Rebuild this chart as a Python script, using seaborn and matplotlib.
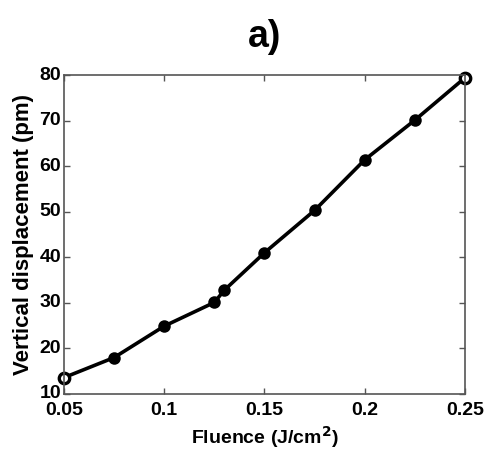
import matplotlib
matplotlib.use("Agg")
import matplotlib.pyplot as plt
import matplotlib.transforms as mtransforms
import seaborn as sns
import pandas as pd

fluence = [0.05, 0.075, 0.1, 0.125, 0.13, 0.15, 0.175, 0.2, 0.225, 0.25]
displacement = [13.6, 18.0, 24.9, 30.1, 32.8, 41.0, 50.3, 61.4, 70.1, 79.4]
x_ticks = [0.05, 0.1, 0.15, 0.2, 0.25]
x_tick_labels = ["0.05", "0.1", "0.15", "0.2", "0.25"]
y_ticks = [10, 20, 30, 40, 50, 60, 70, 80]

sns.set_theme(style="white")
plt.rcParams['font.family'] = ['Liberation Sans', 'DejaVu Sans']
plt.rcParams['text.color'] = 'black'
plt.rcParams['axes.labelcolor'] = 'black'
plt.rcParams['xtick.color'] = 'black'
plt.rcParams['ytick.color'] = 'black'

df = pd.DataFrame({"Fluence": fluence, "Displacement": displacement})
ends = df.iloc[[0, -1]]

fig = plt.figure(figsize=(4.89, 4.55), dpi=100)
ax = fig.add_axes([64/489, 1-394/455, (465-64)/489, (394-75)/455])

sns.lineplot(data=df, x="Fluence", y="Displacement", ax=ax, color="black",
             linewidth=2.6, marker="o", markersize=7.5, markerfacecolor="black",
             markeredgecolor="black", markeredgewidth=1.5, clip_on=False)
sns.lineplot(data=ends, x="Fluence", y="Displacement", ax=ax, color="black",
             linewidth=0, marker="o", markersize=7.5, markerfacecolor="white",
             markeredgecolor="black", markeredgewidth=2.4, clip_on=False)

ax.set_xlim(0.05, 0.25)
ax.set_ylim(10, 80)
ax.set_xticks(x_ticks)
ax.set_xticklabels(x_tick_labels)
ax.set_yticks(y_ticks)
ax.tick_params(axis="both", which="both", direction="in", length=4, width=1,
               color="#555555", labelcolor="black", labelsize=14, pad=2,
               top=True, right=True, bottom=True, left=True)
ax.tick_params(axis="x", pad=5.5)
for lab in ax.get_xticklabels() + ax.get_yticklabels():
    lab.set_fontweight("bold")
# nudge y tick labels up slightly (as in the reference)
offset = mtransforms.ScaledTranslation(0, 2/100, fig.dpi_scale_trans)
for lab in ax.get_yticklabels():
    lab.set_transform(lab.get_transform() + offset)
for sp in ax.spines.values():
    sp.set_color("#555555")
    sp.set_linewidth(1.2)

ax.set_xlabel("Fluence (J/cm$^\\mathbf{2}$)", fontsize=14, fontweight="bold",
              labelpad=4, color="black")
ax.set_ylabel("Vertical displacement (pm)", fontsize=16, fontweight="bold",
              labelpad=4, color="black")
ax.set_title("a)", fontsize=27, fontweight="bold", pad=20, color="black")

fig.savefig("out.png", dpi=100)
